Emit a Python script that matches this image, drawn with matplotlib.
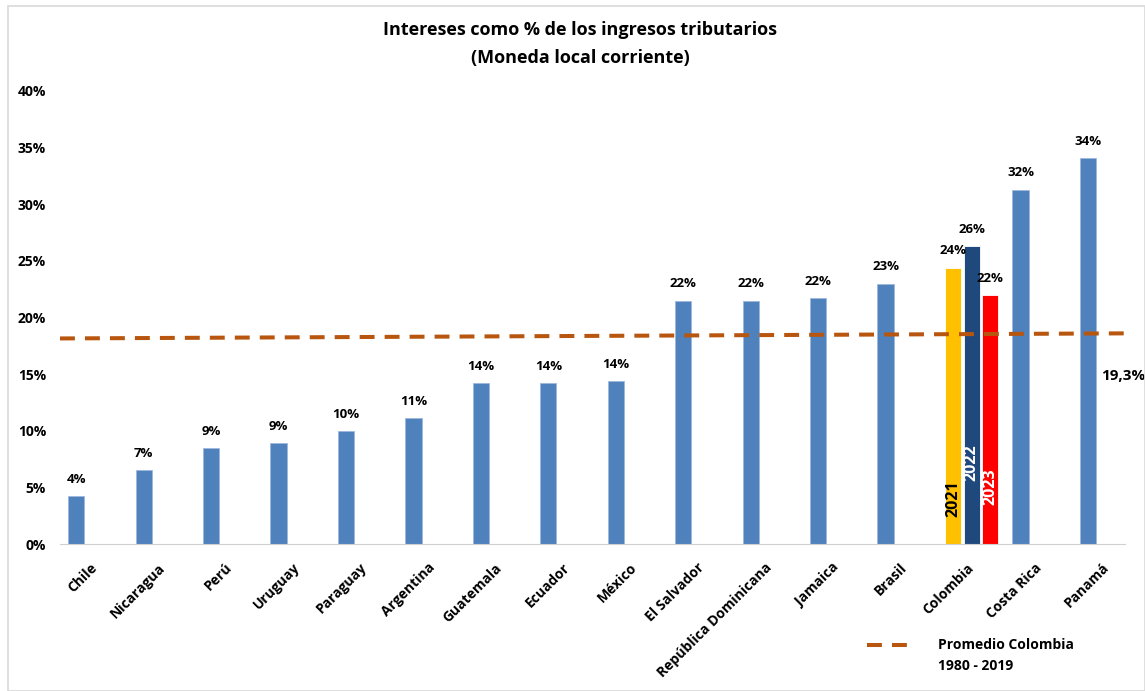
import matplotlib.pyplot as plt
import matplotlib.transforms as mtransforms
import numpy as np
from matplotlib.patches import Rectangle
from matplotlib.lines import Line2D

plt.rcParams['font.family'] = ['Open Sans', 'DejaVu Sans']

# === Data ===
countries = ["Chile", "Nicaragua", "Perú", "Uruguay", "Paraguay", "Argentina",
             "Guatemala", "Ecuador", "México", "El Salvador", "República Dominicana",
             "Jamaica", "Brasil", "Colombia", "Costa Rica", "Panamá"]
values = [4.2, 6.5, 8.5, 8.9, 10.0, 11.1, 14.2, 14.2, 14.4, 21.5, 21.5, 21.7, 23.0,
          None, 31.3, 34.1]
value_labels = ["4%", "7%", "9%", "9%", "10%", "11%", "14%", "14%", "14%", "22%", "22%",
                "22%", "23%", None, "32%", "34%"]

colombia_years = ["2021", "2022", "2023"]
colombia_values = [24.4, 26.3, 22.0]
colombia_labels = ["24%", "26%", "22%"]
colombia_colors = ["#FFC000", "#1F497D", "#FF0000"]
colombia_text_colors = ["black", "white", "white"]
colombia_year_y = [4.0, 7.2, 5.1]

avg_line = [18.15, 18.6]   # dashed trend (start, end)
avg_label = "19,3%"

# === Figure ===
fig = plt.figure(figsize=(11.45, 6.91), dpi=100)
W, H = 1145, 691
ax = fig.add_axes([60 / W, (H - 544) / H, (1125 - 60) / W, (544 - 91) / H])

blue = "#4F81BD"
avg_color = "#B8560F"
bw = 0.24
x = np.arange(len(countries))
for i, (v, lab) in enumerate(zip(values, value_labels)):
    if v is None:
        continue
    ax.bar(i, v, width=bw, color=blue, edgecolor="#9DB9DB", linewidth=0.6)
    ax.text(i, v + 0.9, lab, ha="center", va="bottom", fontsize=9.5, fontweight="bold")

ci = countries.index("Colombia")
offsets = [0.0, 0.28, 0.55]
for off, v, lab, c, tc, yr, yy in zip(offsets, colombia_values, colombia_labels,
                                      colombia_colors, colombia_text_colors,
                                      colombia_years, colombia_year_y):
    ax.bar(ci + off, v, width=bw, color=c, edgecolor="white", linewidth=0.6)
    ax.text(ci + off, v + 0.9, lab, ha="center", va="bottom", fontsize=9.5, fontweight="bold")
    ax.text(ci + off, yy, yr, ha="center", va="center", rotation=90, color=tc,
            fontsize=11.5, fontweight="bold")

# average dashed line
ax.plot([-0.24, 15.55], avg_line, color=avg_color, linewidth=2.9,
        dashes=(3.7, 2.5), zorder=3)
ax.text(15.2, 14.8, avg_label, ha="left", va="center", fontsize=11, fontweight="bold")

ax.set_xlim(-0.24, 15.55)
ax.set_ylim(0, 40)
ax.set_yticks(np.arange(0, 41, 5))
ax.set_yticklabels([f"{t}%" for t in range(0, 41, 5)], fontsize=10, fontweight="bold")
ax.set_xticks(x)
ax.set_xticklabels(countries, rotation=45, ha="right", rotation_mode="anchor",
                   fontsize=10, fontweight="bold")
ax.tick_params(axis="y", length=0, pad=10)
ax.tick_params(axis="x", length=0, pad=12)
shift = mtransforms.ScaledTranslation(14 / 100, 0, fig.dpi_scale_trans)
for lbl in ax.get_xticklabels():
    lbl.set_transform(lbl.get_transform() + shift)
for s in ["top", "right", "left"]:
    ax.spines[s].set_visible(False)
ax.spines["bottom"].set_color("#D0D0D0")

# title
fig.text(580 / W, 1 - 30 / H, "Intereses como % de los ingresos tributarios",
         ha="center", va="center", fontsize=13, fontweight="bold")
fig.text(580 / W, 1 - 58 / H, "(Moneda local corriente)",
         ha="center", va="center", fontsize=13, fontweight="bold")

# legend
fig.add_artist(Line2D([867 / W, 907 / W], [1 - 645 / H, 1 - 645 / H],
                      color=avg_color, linewidth=2.9, dashes=(3.7, 2.5)))
fig.text(938 / W, 1 - 645 / H, "Promedio Colombia", ha="left", va="center",
         fontsize=10, fontweight="bold")
fig.text(938 / W, 1 - 666 / H, "1980 - 2019", ha="left", va="center",
         fontsize=10, fontweight="bold")

# chart border
fig.add_artist(Rectangle((8 / W, 0), 1 - 8 / W, 1 - 6 / H, transform=fig.transFigure,
                         fill=False, edgecolor="#D9D9D9", linewidth=1.2))

fig.savefig("out.png", dpi=100)
